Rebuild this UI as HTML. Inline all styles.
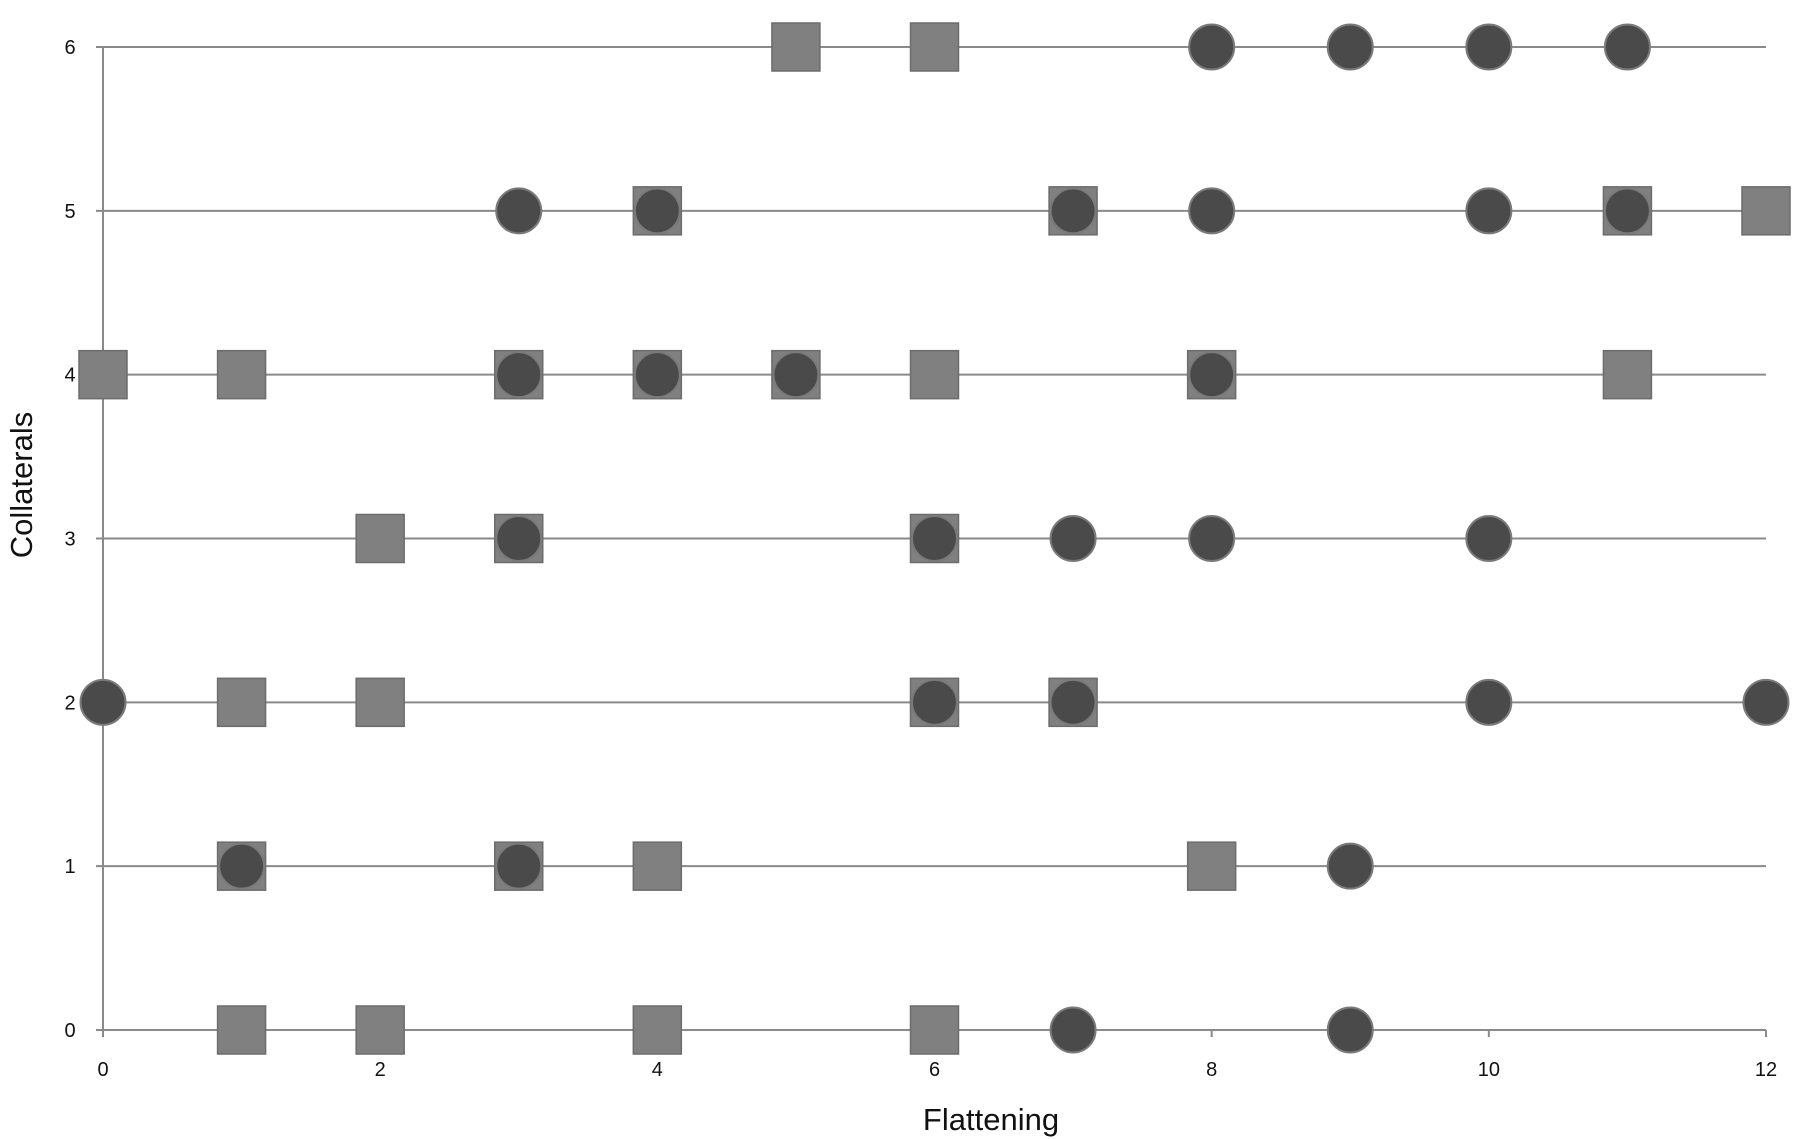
<!DOCTYPE html>
<html><head><meta charset="utf-8"><style>
html,body{margin:0;padding:0;background:#fff;}
svg{display:block;font-family:"Liberation Sans",sans-serif;}
</style></head><body>
<svg id="chart" width="1800" height="1139" viewBox="0 0 1800 1139"></svg>
<script>
const xTicks=[0,2,4,6,8,10,12];
const yTicks=[0,1,2,3,4,5,6];
const squareX=[5,6, 4,7,11,12, 0,1,3,4,5,6,8,11, 2,3,6, 1,2,6,7, 1,3,4,8, 1,2,4,6];
const squareY=[6,6, 5,5,5,5, 4,4,4,4,4,4,4,4, 3,3,3, 2,2,2,2, 1,1,1,1, 0,0,0,0];
const circleX=[8,9,10,11, 3,4,7,8,10,11, 3,4,5,8, 3,6,7,8,10, 0,6,7,10,12, 1,3,9, 7,9];
const circleY=[6,6,6,6, 5,5,5,5,5,5, 4,4,4,4, 3,3,3,3,3, 2,2,2,2,2, 1,1,1, 0,0];
const NS="http://www.w3.org/2000/svg";
const svg=document.getElementById('chart');
const X0=103,X1=1766,Y0=1030,Y1=47;
const sx=v=>X0+(v-0)/(12-0)*(X1-X0);
const sy=v=>Y0-(v-0)/(6-0)*(Y0-Y1);
function mk(t,a){const e=document.createElementNS(NS,t);for(const k in a)e.setAttribute(k,a[k]);svg.appendChild(e);return e;}
yTicks.forEach(v=>{
  const l=mk('line',{x1:X0-7,x2:X1,y1:sy(v),y2:sy(v),stroke:'#8a8a8a','stroke-width':2});
  
  
  const t=mk('text',{x:70,y:sy(v)+7,'font-size':20,'text-anchor':'middle',fill:'#111'});
  t.textContent=v;
  
  
});
const ax=mk('line',{x1:X0,x2:X0,y1:Y1,y2:Y0+7,stroke:'#8a8a8a','stroke-width':2});


xTicks.forEach(v=>{
  const tk=mk('line',{x1:sx(v),x2:sx(v),y1:Y0,y2:Y0+7,stroke:'#8a8a8a','stroke-width':2});
  
  
  const t=mk('text',{x:sx(v),y:1076,'font-size':20,'text-anchor':'middle',fill:'#111'});
  t.textContent=v;
  
  
});
squareX.forEach((v,i)=>{
  const r=mk('rect',{x:sx(v)-24,y:sy(squareY[i])-24,width:48,height:48,fill:'#808080',stroke:'#6c6c6c','stroke-width':1.5});
  
  
});
circleX.forEach((v,i)=>{
  const c=mk('circle',{cx:sx(v),cy:sy(circleY[i]),r:22.5,fill:'#4a4a4a',stroke:'#7a7a7a','stroke-width':2});
  
  
});
const xt=mk('text',{x:991,y:1130,'font-size':31,'text-anchor':'middle',fill:'#111'});
xt.textContent='Flattening';


const yt=mk('text',{x:0,y:0,'font-size':31,'text-anchor':'middle',fill:'#111',transform:'translate(32,485) rotate(-90)'});
yt.textContent='Collaterals';


</script>
</body></html>
